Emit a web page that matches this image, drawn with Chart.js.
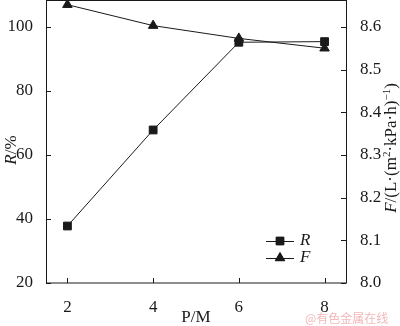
<!DOCTYPE html>
<html lang="zh">
<head>
<meta charset="UTF-8">
<title>R / F vs P/M</title>
<script src="https://cdn.jsdelivr.net/npm/chart.js"></script>
<style>
  html, body { margin: 0; padding: 0; background: #fff; }
  #wrap { width: 400px; height: 326px; position: relative; }
</style>
</head>
<body>
<div id="wrap"><canvas id="chart"></canvas></div>
<script>
// data
const pm = [2, 4, 6, 8];
const rValues = [37.8, 67.8, 95.2, 95.4];
const fValues = [8.652, 8.603, 8.573, 8.550];
const pmTicks = [2, 4, 6, 8];
const rTicks = [20, 40, 60, 80, 100];
const fTicks = [8.0, 8.1, 8.2, 8.3, 8.4, 8.5, 8.6];

const ink = '#1a1a1a';
const serif = "'Liberation Serif', 'DejaVu Serif', serif";
const fs = 17;

// inner tick marks, frame, axis titles, legend, watermark
const decor = {
  id: 'decor',
  afterDraw(chart) {
    const ctx = chart.ctx;
    const a = chart.chartArea;
    const sx = chart.scales.x, sy = chart.scales.y, sy1 = chart.scales.y1;
    ctx.save();
    ctx.strokeStyle = ink;
    ctx.lineWidth = 1;
    // frame
    ctx.strokeRect(Math.round(a.left) + 0.5, Math.round(a.top) + 0.5,
                   Math.round(a.right - a.left), Math.round(a.bottom - a.top) - 0.5);
    // inward ticks
    ctx.beginPath();
    pmTicks.forEach(v => {
      const x = Math.round(sx.getPixelForValue(v)) + 0.5;
      ctx.moveTo(x, a.bottom); ctx.lineTo(x, a.bottom - 5);
    });
    rTicks.forEach(v => {
      const y = Math.round(sy.getPixelForValue(v)) + 0.5;
      ctx.moveTo(a.left, y); ctx.lineTo(a.left + 5, y);
    });
    fTicks.forEach(v => {
      const y = Math.round(sy1.getPixelForValue(v)) + 0.5;
      ctx.moveTo(a.right, y); ctx.lineTo(a.right - 5, y);
    });
    ctx.stroke();

    ctx.fillStyle = ink;
    ctx.textBaseline = 'middle';
    // x title
    ctx.font = fs + 'px ' + serif;
    ctx.textAlign = 'center';
    ctx.fillText('P/M', (a.left + a.right) / 2, 318);

    // left title
    drawRich(ctx, [{t: 'R', i: true}, {t: '/%'}], 12, 150, fs);
    // right title
    drawRich(ctx, [{t: 'F', i: true}, {t: '/(L·(m'}, {t: '2', s: true},
                   {t: '·kPa·h)'}, {t: '−1', s: true}, {t: ')'}], 392, 148, fs);

    // legend
    const ds = chart.data.datasets;
    [[ds[0], 'R', 241], [ds[1], 'F', 258]].forEach(([d, name, y]) => {
      ctx.beginPath();
      ctx.moveTo(266, y + 0.5); ctx.lineTo(294, y + 0.5);
      ctx.stroke();
      Chart.helpers.drawPoint(ctx, {pointStyle: d.pointStyle, radius: d.pointRadius,
        borderWidth: 1, rotation: 0}, 280, y);
      ctx.fill();
      ctx.font = 'italic ' + fs + 'px ' + serif;
      ctx.textAlign = 'left';
      ctx.fillText(name, 300, y);
    });

    // watermark
    ctx.fillStyle = '#f2b8b8';
    ctx.font = "12px 'Noto Sans CJK SC', sans-serif";
    ctx.textAlign = 'left';
    ctx.fillText('@有色金属在线', 305, 318);
    ctx.restore();
  }
};

function drawRich(ctx, parts, cx, cy, size) {
  const widths = parts.map(p => {
    ctx.font = (p.i ? 'italic ' : '') + (p.s ? size * 0.65 : size) + 'px ' + serif;
    return ctx.measureText(p.t).width;
  });
  const total = widths.reduce((s, w) => s + w, 0);
  ctx.save();
  ctx.translate(cx, cy);
  ctx.rotate(-Math.PI / 2);
  ctx.textAlign = 'left';
  ctx.textBaseline = 'middle';
  let x = -total / 2;
  parts.forEach((p, k) => {
    ctx.font = (p.i ? 'italic ' : '') + (p.s ? size * 0.65 : size) + 'px ' + serif;
    ctx.fillText(p.t, x, p.s ? -5 : 0);
    x += widths[k];
  });
  ctx.restore();
}

function noPad(s) {
  s.paddingTop = 0; s.paddingBottom = 0;
  s.paddingLeft = 0; s.paddingRight = 0;
}

new Chart(document.getElementById('chart'), {
  type: 'line',
  data: {
    datasets: [{
      label: 'R',
      data: pm.map((x, k) => ({x: x, y: rValues[k]})),
      yAxisID: 'y',
      borderColor: ink, backgroundColor: ink, borderWidth: 1,
      pointStyle: 'rect', pointRadius: 5.5, pointHoverRadius: 5.5,
      tension: 0, clip: false
    }, {
      label: 'F',
      data: pm.map((x, k) => ({x: x, y: fValues[k]})),
      yAxisID: 'y1',
      borderColor: ink, backgroundColor: ink, borderWidth: 1,
      pointStyle: 'triangle', pointRadius: 5.5, pointHoverRadius: 5.5,
      tension: 0, clip: false
    }]
  },
  options: {
    responsive: true,
    maintainAspectRatio: false,
    animation: false,
    events: [],
    layout: { padding: 0, autoPadding: false },
    plugins: { legend: { display: false }, tooltip: { enabled: false } },
    scales: {
      x: {
        type: 'linear', min: 1.5, max: 8.5,
        afterBuildTicks: s => { s.ticks = pmTicks.map(v => ({value: v})); },
        afterFit: s => { s.height = 43; noPad(s); },
        grid: { display: false },
        border: { display: false },
        ticks: { color: ink, padding: 6, font: { family: serif, size: fs } }
      },
      y: {
        position: 'left', min: 20, max: 108.4,
        afterBuildTicks: s => { s.ticks = rTicks.map(v => ({value: v})); },
        afterFit: s => { s.width = 46; noPad(s); },
        grid: { display: false },
        border: { display: false },
        ticks: { color: ink, padding: 5, font: { family: serif, size: fs } }
      },
      y1: {
        position: 'right', min: 8.0, max: 8.663,
        afterBuildTicks: s => { s.ticks = fTicks.map(v => ({value: v})); },
        afterFit: s => { s.width = 54; noPad(s); },
        grid: { display: false },
        border: { display: false },
        ticks: { color: ink, padding: 6, font: { family: serif, size: fs },
                 callback: v => v.toFixed(1) }
      }
    }
  },
  plugins: [decor]
});
</script>
</body>
</html>
